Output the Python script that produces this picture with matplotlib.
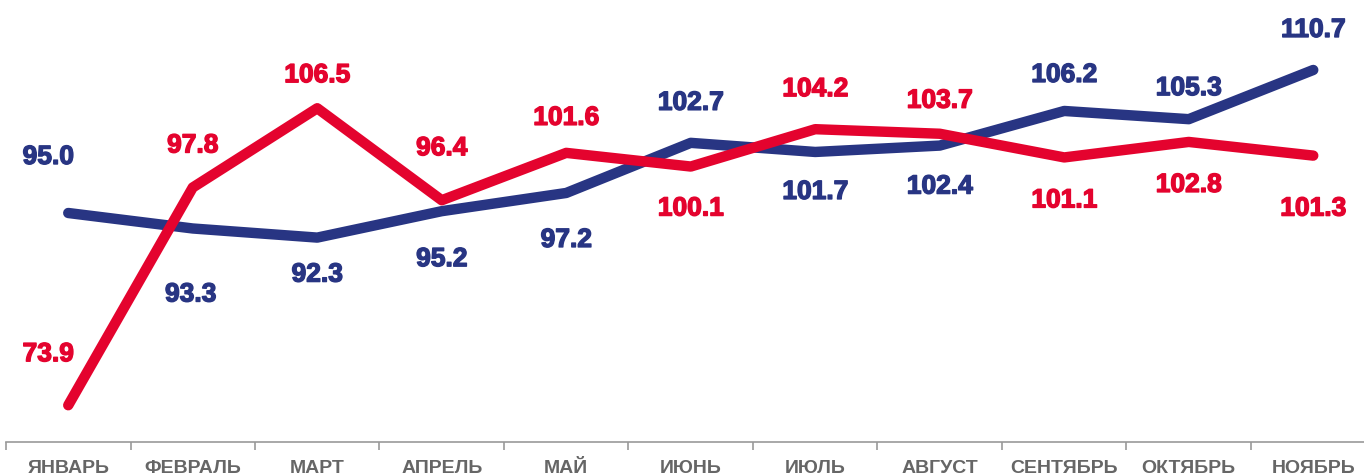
import matplotlib
matplotlib.use("Agg")
import matplotlib.pyplot as plt
import matplotlib.patheffects as pe
import numpy as np

months = ["ЯНВАРЬ", "ФЕВРАЛЬ", "МАРТ", "АПРЕЛЬ", "МАЙ", "ИЮНЬ",
          "ИЮЛЬ", "АВГУСТ", "СЕНТЯБРЬ", "ОКТЯБРЬ", "НОЯБРЬ"]
blue_vals = [95.0, 93.3, 92.3, 95.2, 97.2, 102.7, 101.7, 102.4, 106.2, 105.3, 110.7]
red_vals = [73.9, 97.8, 106.5, 96.4, 101.6, 100.1, 104.2, 103.7, 101.1, 102.8, 101.3]

BLUE = "#283583"
RED = "#E4032E"
GRAY = "#666666"

# label offsets from point, in pixels (dx, dy; positive dy = up)
blue_off = [(-20, 56), (-2, -66), (0, -37), (0, -48), (0, -47), (0, 40),
            (0, -40), (0, -41), (0, 36), (0, 31), (0, 40)]
red_off = [(-20, 51), (0, 42), (0, 33), (0, 52), (0, 35), (0, -42),
           (0, 40), (0, 33), (0, -43), (0, -43), (0, -53)]

plt.rcParams["font.family"] = ["Liberation Sans", "DejaVu Sans"]

fig = plt.figure(figsize=(13.64, 4.76), dpi=100)
ax = fig.add_axes([6 / 1364, 1 - 442 / 476, 1 - 6 / 1364, 442 / 476])

x = np.arange(len(months))
ax.plot(x, blue_vals, color=BLUE, lw=7.5, solid_capstyle="round",
        solid_joinstyle="round", zorder=2)
ax.plot(x, red_vals, color=RED, lw=7.5, solid_capstyle="round",
        solid_joinstyle="round", zorder=3)

px = 72 / 100
for vals, offs, col in [(blue_vals, blue_off, BLUE), (red_vals, red_off, RED)]:
    for i, (v, (dx, dy)) in enumerate(zip(vals, offs)):
        ax.annotate(f"{v:.1f}", (i, v), xytext=(dx * px, dy * px),
                    textcoords="offset points", ha="center", va="center",
                    fontsize=19, fontweight="bold", color=col, zorder=4,
                    path_effects=[pe.withStroke(linewidth=1.0, foreground=col)])

ax.set_xlim(-0.5, -0.5 + (1364 - 6) / 124.5)
ax.set_ylim(95 - 229 / 9.11, 95 + 213 / 9.11)

for s in ["top", "right", "left"]:
    ax.spines[s].set_visible(False)
ax.spines["bottom"].set_color("#999999")
ax.spines["bottom"].set_linewidth(1.2)
ax.set_yticks([])

ax.set_xticks(x)
ax.set_xticklabels(months, fontsize=14, fontweight="bold", color=GRAY)
ax.tick_params(axis="x", which="major", length=0, pad=13)
ax.set_xticks(np.arange(len(months)) - 0.5, minor=True)
ax.tick_params(axis="x", which="minor", length=6, width=1.2, color="#999999",
               direction="out")

fig.savefig("out.png", dpi=100)
